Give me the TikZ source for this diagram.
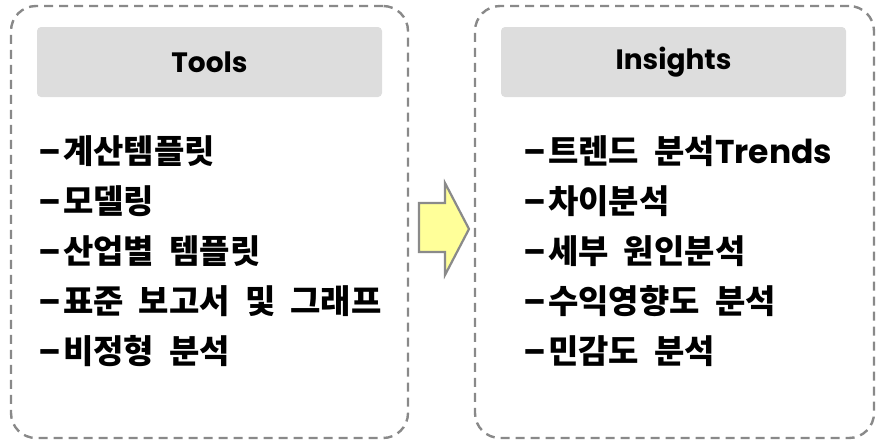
\documentclass[tikz,border=0pt]{standalone}
\usepackage{fontspec}
\newfontfamily\krfont{Noto Sans CJK KR}[WordSpace=2]
\newfontfamily\latfont{Poppins}
\usetikzlibrary{positioning}
\definecolor{cframe}{HTML}{898989}
\definecolor{chead}{HTML}{DDDDDD}
\definecolor{carrowfill}{HTML}{FFFF99}
\definecolor{carrowline}{HTML}{8A8A8A}
\tikzset{
  every picture/.style={x=1pt, y=-1pt},
  frame/.style={draw=cframe, dash pattern=on 9pt off 6pt, line width=2.4pt, rounded corners=25pt, minimum width=#1, minimum height=432pt, inner sep=0pt},
  header/.style={fill=chead, rounded corners=4pt, minimum width=345pt, minimum height=70pt, inner sep=0pt, font=\latfont\bfseries\fontsize{28}{32}\selectfont},
  item/.style={anchor=west, inner sep=0pt, font=\krfont\bfseries\fontsize{33}{36}\selectfont},
  bigarrow/.style={draw=carrowline, fill=carrowfill, line width=2.2pt, line join=miter},
}
\newcommand{\dashmark}{{\latfont –}\kern2pt}

\begin{document}
\begin{tikzpicture}
  \useasboundingbox (0,0) rectangle (882,445);

  % tools
  \node[frame=397pt] (toolsframe) at (209.5,222) {};
  \node[header] (toolshead) at (209.5,62) {Tools};
  \foreach \t [count=\i] in {계산템플릿, 모델링, 산업별 템플릿, 표준 보고서 및 그래프, 비정형 분석}
    \node[item] (tool\i) at (38,{101+50*\i}) {\dashmark\t};

  % insights
  \node[frame=399pt] (insframe) at (674.5,222) {};
  \node[header] (inshead) at (673.5,62) {Insights};
  \node[item] (ins1) at (523,151) {\dashmark 트렌드 분석{\latfont Trends}};
  \foreach \t [count=\i from 2] in {차이분석, 세부 원인분석, 수익영향도 분석, 민감도 분석}
    \node[item] (ins\i) at (523,{101+50*\i}) {\dashmark\t};

  % arrow between
  \draw[bigarrow] (419,203) -- (445,203) -- (445,183) -- (469,229) -- (445,275) -- (445,252) -- (419,252) -- cycle;
\end{tikzpicture}
\end{document}
